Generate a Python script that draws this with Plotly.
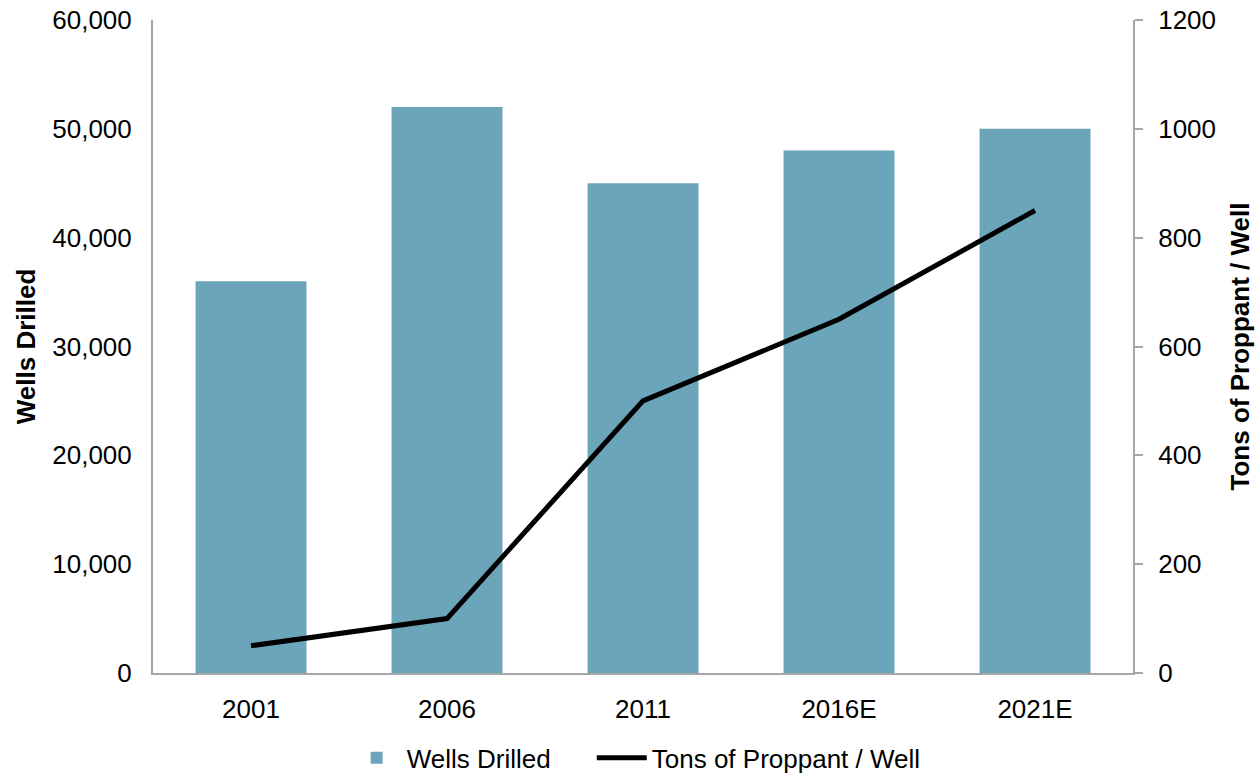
import plotly.graph_objects as go

categories = ["2001", "2006", "2011", "2016E", "2021E"]
wells_drilled = [36000, 52000, 45000, 48000, 50000]
tons_per_well = [50, 100, 500, 650, 850]

FONT = "Liberation Sans, Arial, sans-serif"
AX = "#A6A6A6"
FS = 26
GAP = "\u00a0" * 5  # spacing between legend entries

fig = go.Figure()
fig.add_trace(go.Bar(
    x=categories, y=wells_drilled, name="Wells Drilled" + GAP,
    marker=dict(color="#6BA5B9", line=dict(width=0)),
))
fig.add_trace(go.Scatter(
    x=categories, y=tons_per_well, name="Tons of Proppant / Well",
    yaxis="y2", mode="lines",
    line=dict(color="black", width=5),
))

fig.update_layout(
    width=1255, height=775,
    margin=dict(l=153, r=122, t=20, b=102, autoexpand=False),
    plot_bgcolor="white", paper_bgcolor="white",
    font=dict(family=FONT, size=FS, color="black"),
    bargap=0.434,
    showlegend=True,
    legend=dict(orientation="h", x=0.493, xanchor="center", y=-0.13, yanchor="middle",
                font=dict(size=FS), itemwidth=50, traceorder="normal"),
    xaxis=dict(showline=True, linecolor=AX, linewidth=2, ticks="", showgrid=False,
               automargin=False, ticklabelstandoff=12, tickfont=dict(size=FS)),
    yaxis=dict(range=[0, 60000], tickvals=[0, 10000, 20000, 30000, 40000, 50000, 60000],
               tickformat=",", showline=True, linecolor=AX, linewidth=2, ticks="",
               showgrid=False, zeroline=False, automargin=False,
               ticklabelstandoff=14, tickfont=dict(size=FS),
               title=dict(text="<b>Wells Drilled</b>", font=dict(size=FS), standoff=9)),
    yaxis2=dict(range=[0, 1200], tickvals=[0, 200, 400, 600, 800, 1000, 1200],
                overlaying="y", side="right", showline=True, linecolor=AX, linewidth=2,
                ticks="outside", ticklen=8, tickcolor=AX, tickwidth=2,
                showgrid=False, zeroline=False, automargin=False,
                ticklabelstandoff=10, tickfont=dict(size=FS),
                title=dict(text="<b>Tons of Proppant / Well</b>", font=dict(size=FS), standoff=22)),
)

fig.write_html("out.html")
